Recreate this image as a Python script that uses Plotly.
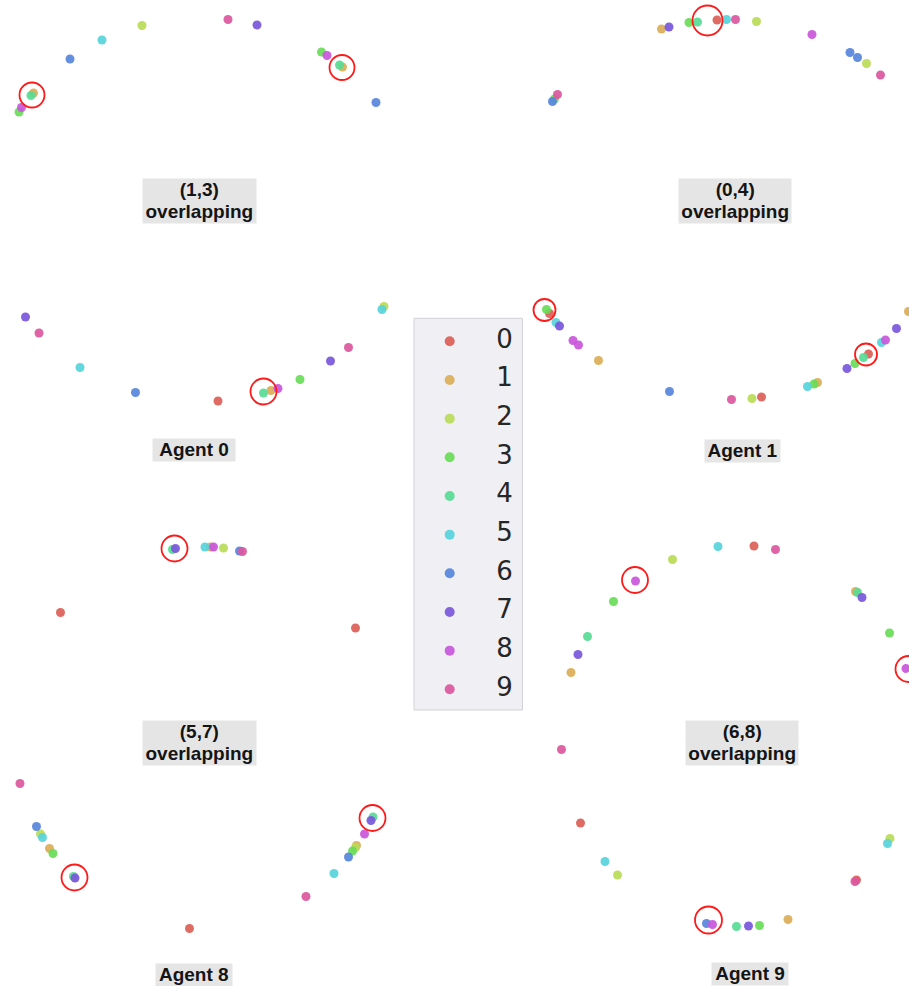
import plotly.graph_objects as go

FIG_W, FIG_H = 909, 986

# ---- classes -------------------------------------------------------------
CLASS_LABELS = ["0", "1", "2", "3", "4", "5", "6", "7", "8", "9"]
CLASS_COLORS = ["#db5f57", "#dbae57", "#b9db57", "#69db57", "#57db94",
                "#57d3db", "#5784db", "#7957db", "#c957db", "#db579e"]

# ---- embeddings, one set per view (local units, y pointing up) -----------
p13_x = [19, 21.5, 31, 33.5, 70, 102, 142, 228, 257, 321.5, 327, 339.5, 342.5, 376]
p13_y = [118, 122.5, 134.5, 137, 171, 190, 204.5, 210.5, 205, 178, 174.5, 165, 163, 127.5]
p13_c = [3, 8, 4, 1, 6, 5, 2, 9, 7, 3, 8, 4, 1, 6]
p13_ring_x = [32, 342]
p13_ring_y = [135, 162.5]

p04_x = [141.5, 149, 169, 177.5, 197, 206.5, 215.5, 236.5, 292, 330, 337.5, 346.5, 360.5, 32.5, 34.5, 37.5]
p04_y = [201, 203, 207.5, 208, 210, 210.5, 210.5, 208.5, 195.5, 177.5, 172.5, 166.5, 155, 128.5, 131, 135.5]
p04_c = [1, 7, 3, 4, 0, 5, 9, 2, 8, 6, 6, 2, 9, 6, 3, 9]
p04_ring_x = [187.5]
p04_ring_y = [209.5]

a0_x = [25.5, 39, 80, 135.5, 218, 263.5, 271, 278, 300, 330.5, 348.5, 384, 382]
a0_y = [153, 137, 102.5, 77.5, 69, 77, 79.5, 81.5, 90.5, 109, 122.5, 163.5, 160.5]
a0_c = [7, 9, 5, 6, 0, 4, 1, 8, 3, 7, 9, 2, 5]
a0_ring_x = [263.5]
a0_ring_y = [78.5]

a1_x = [26.5, 29.5, 36, 39.5, 53, 58.5, 78.5, 149.5, 211.5, 232, 241.5, 287.5, 294,
        297.5, 327, 335, 343.5, 348.5, 361.5, 365.5, 376.5, 388.5]
a1_y = [160.5, 156.5, 147.5, 144, 129.5, 125, 109.5, 78.5, 70.5, 71.5, 73, 83.5, 86,
        87.5, 101.5, 106.5, 112.5, 116, 127.5, 130, 141.5, 158.5]
a1_c = [3, 0, 5, 7, 8, 8, 1, 6, 9, 2, 0, 5, 3, 1, 7, 3, 4, 0, 5, 8, 7, 1]
a1_ring_x = [24.5, 346]
a1_ring_y = [160, 115.5]

p57_x = [172.5, 175.5, 205, 210.5, 213.5, 223.5, 239.5, 242.5, 60.5, 355.5]
p57_y = [220.5, 221.5, 223, 223, 223, 222, 219, 218.5, 157.5, 142]
p57_c = [4, 7, 5, 1, 8, 2, 6, 9, 0, 0]
p57_ring_x = [174.5]
p57_ring_y = [221.5]

p68_x = [115.5, 152.5, 198, 234, 255.5, 93.5, 67.5, 58, 51, 41.5, 335.5, 337.5, 342, 369.5, 386]
p68_y = [189, 210.5, 223.5, 224, 220.5, 168.5, 133.5, 115.5, 97.5, 20.5, 178.5, 177.5, 172.5, 137, 101.5]
p68_c = [8, 2, 5, 0, 9, 3, 4, 7, 1, 9, 1, 4, 7, 3, 8]
p68_ring_x = [115, 388.5]
p68_ring_y = [190, 101]

a8_x = [20, 36.5, 40.5, 42.5, 49.5, 53, 73.5, 75, 189.5, 306, 334, 348.5, 352.5, 355.5, 356.5, 364.5, 373, 371]
a8_y = [202.5, 159.5, 152, 148.5, 137.5, 132.5, 109.5, 108, 57.5, 89.5, 112.5, 129, 135, 138.5, 140.5, 152, 169, 165.5]
a8_c = [9, 6, 2, 5, 1, 3, 4, 7, 0, 9, 5, 6, 3, 2, 1, 8, 4, 7]
a8_ring_x = [74.5, 372.5]
a8_ring_y = [108.5, 168]

a9_x = [60.5, 85, 97.5, 186.5, 192.5, 216.5, 228.5, 239.5, 268, 336.5, 335, 370, 367.5]
a9_y = [163, 124.5, 111, 62.5, 61.5, 59.5, 60, 60.5, 66.5, 106, 104.5, 147.5, 142.5]
a9_c = [0, 5, 2, 6, 8, 4, 7, 3, 1, 0, 9, 2, 5]
a9_ring_x = [188.5]
a9_ring_y = [66]

# ---- page layout of the views (pixels: left, top, right, bottom) ---------
panels = [
    dict(box=(0, 0, 410, 230), x=p13_x, y=p13_y, c=p13_c, rx=p13_ring_x, ry=p13_ring_y,
         title=["(1,3)", "overlapping"], tpos=(199, 178.3, 112.6), ring=25),
    dict(box=(520, 0, 909, 230), x=p04_x, y=p04_y, c=p04_c, rx=p04_ring_x, ry=p04_ring_y,
         title=["(0,4)", "overlapping"], tpos=(734.5, 178.0, 112.4), ring=30),
    dict(box=(0, 290, 410, 470), x=a0_x, y=a0_y, c=a0_c, rx=a0_ring_x, ry=a0_ring_y,
         title=["Agent 0"], tpos=(193.7, 438.5, 82), ring=26),
    dict(box=(520, 290, 909, 470), x=a1_x, y=a1_y, c=a1_c, rx=a1_ring_x, ry=a1_ring_y,
         title=["Agent 1"], tpos=(742.5, 439.0, 75), ring=22),
    dict(box=(0, 520, 410, 770), x=p57_x, y=p57_y, c=p57_c, rx=p57_ring_x, ry=p57_ring_y,
         title=["(5,7)", "overlapping"], tpos=(199, 720.3, 112.6), ring=26),
    dict(box=(520, 520, 909, 770), x=p68_x, y=p68_y, c=p68_c, rx=p68_ring_x, ry=p68_ring_y,
         title=["(6,8)", "overlapping"], tpos=(742, 720.3, 112.4), ring=26),
    dict(box=(0, 770, 410, 986), x=a8_x, y=a8_y, c=a8_c, rx=a8_ring_x, ry=a8_ring_y,
         title=["Agent 8"], tpos=(193.7, 962.8, 75.5), ring=26),
    dict(box=(520, 770, 909, 986), x=a9_x, y=a9_y, c=a9_c, rx=a9_ring_x, ry=a9_ring_y,
         title=["Agent 9"], tpos=(750, 961.7, 76), ring=27),
]

LINE_H = 21.7
DOT_SIZE = 9

fig = go.Figure()
layout_axes = {}
annotations = []

for i, p in enumerate(panels, start=1):
    left, top, right, bottom = p["box"]
    xa, ya = f"x{i}", f"y{i}"
    suffix = "" if i == 1 else str(i)
    layout_axes[f"xaxis{suffix}"] = dict(
        domain=[left / FIG_W, right / FIG_W], range=[0, right - left],
        visible=False, fixedrange=True, anchor=ya)
    layout_axes[f"yaxis{suffix}"] = dict(
        domain=[1 - bottom / FIG_H, 1 - top / FIG_H], range=[0, bottom - top],
        visible=False, fixedrange=True, anchor=xa)

    # one trace per class so higher labels sit on top
    for k, lab in enumerate(CLASS_LABELS):
        xs = [xv for xv, cv in zip(p["x"], p["c"]) if cv == k]
        ys = [yv for yv, cv in zip(p["y"], p["c"]) if cv == k]
        if not xs:
            continue
        fig.add_trace(go.Scatter(
            x=xs, y=ys, mode="markers", xaxis=xa, yaxis=ya, showlegend=False,
            name=lab, hoverinfo="skip",
            marker=dict(size=DOT_SIZE, color=CLASS_COLORS[k], opacity=0.92,
                        line=dict(width=0))))

    # red rings around the overlapping points
    fig.add_trace(go.Scatter(
        x=p["rx"], y=p["ry"], mode="markers", xaxis=xa, yaxis=ya, showlegend=False,
        hoverinfo="skip",
        marker=dict(symbol="circle-open", size=p["ring"], color="#ff1a1a",
                    line=dict(width=1.8, color="#ff1a1a"))))

    # caption box under the view
    cx, ctop, cw = p["tpos"]
    for j, line in enumerate(p["title"]):
        cy = ctop + (j + 0.5) * LINE_H
        annotations.append(dict(
            x=cx - left, y=bottom - cy, xref=xa, yref=ya, showarrow=False,
            text=f"<b>{line}</b>", xanchor="center", yanchor="middle",
            width=cw, height=LINE_H, borderpad=0, bgcolor="#e5e5e5",
            font=dict(family="Liberation Sans, Arial, sans-serif", size=19,
                      color="#141414"),
            yshift=-1))

# ---- class key in the middle ---------------------------------------------
KEY_BOX = (414, 318.3, 522.5, 710)
KEY_STEP = 38.67
KEY_FIRST = 341.3
kl, kt, kr, kb = KEY_BOX
layout_axes["xaxis9"] = dict(domain=[kl / FIG_W, kr / FIG_W], range=[0, kr - kl],
                             visible=False, fixedrange=True, anchor="y9")
layout_axes["yaxis9"] = dict(domain=[1 - kb / FIG_H, 1 - kt / FIG_H],
                             range=[(kb - KEY_FIRST) / KEY_STEP, (kt - KEY_FIRST) / KEY_STEP],
                             visible=False, fixedrange=True, anchor="x9")
key_idx = list(range(len(CLASS_LABELS)))
fig.add_trace(go.Scatter(
    x=[35.7] * len(key_idx), y=key_idx, mode="markers", xaxis="x9", yaxis="y9",
    showlegend=False, hoverinfo="skip",
    marker=dict(size=10, color=CLASS_COLORS, opacity=0.92, line=dict(width=0))))
fig.add_trace(go.Scatter(
    x=[90.5] * len(key_idx), y=key_idx, mode="text", text=CLASS_LABELS,
    xaxis="x9", yaxis="y9", showlegend=False, hoverinfo="skip",
    textposition="middle center",
    textfont=dict(family="DejaVu Sans", size=26, color="#262626")))

shapes = [dict(type="rect", xref="x9 domain", yref="y9 domain", x0=0, x1=1, y0=0, y1=1,
               fillcolor="#efeff4", line=dict(color="#d2d2d6", width=1), layer="below")]

fig.update_layout(
    width=FIG_W, height=FIG_H, margin=dict(l=0, r=0, t=0, b=0),
    paper_bgcolor="white", plot_bgcolor="rgba(0,0,0,0)",
    showlegend=False, annotations=annotations, shapes=shapes,
    **layout_axes)

fig.write_html("out.html")
